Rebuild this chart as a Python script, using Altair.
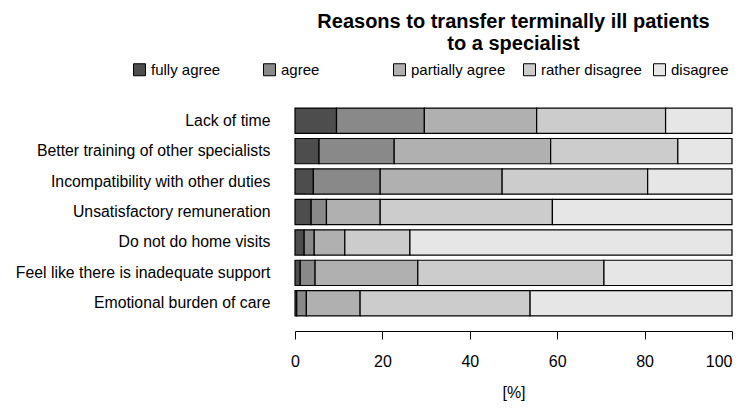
import altair as alt
import pandas as pd

reasons = [
    "Lack of time",
    "Better training of other specialists",
    "Incompatibility with other duties",
    "Unsatisfactory remuneration",
    "Do not do home visits",
    "Feel like there is inadequate support",
    "Emotional burden of care",
]
levels = ["fully agree", "agree", "partially agree", "rather disagree", "disagree"]
colors = ["#4d4d4d", "#898989", "#b0b0b0", "#cccccc", "#e6e6e6"]

fully_agree = [9.5, 5.5, 4.2, 3.7, 2.1, 1.2, 0.4]
agree = [20.1, 17.2, 15.3, 3.5, 2.3, 3.4, 2.2]
partially_agree = [25.7, 35.8, 27.9, 12.3, 7.0, 23.5, 12.3]
rather_disagree = [29.5, 29.1, 33.3, 39.4, 14.9, 42.6, 38.9]
disagree = [15.2, 12.4, 19.3, 41.1, 73.7, 29.3, 46.2]
ticks = [0, 20, 40, 60, 80, 100]

series = [fully_agree, agree, partially_agree, rather_disagree, disagree]
rows = []
for li, (lev, vals) in enumerate(zip(levels, series)):
    for r, v in zip(reasons, vals):
        rows.append({"reason": r, "level": lev, "value": v, "idx": li})
df = pd.DataFrame(rows)

FONT = "Liberation Sans"

chart = alt.Chart(df).mark_bar(stroke="black", strokeWidth=1.2).encode(
    x=alt.X(
        "value:Q",
        stack="zero",
        scale=alt.Scale(domain=[0, 100], nice=False),
        axis=alt.Axis(values=ticks, title="[%]", offset=12, tickSize=8,
                      labelPadding=14, titlePadding=15, grid=False,
                      labelFlush=False,
                      labelAlign={"condition": {"test": "datum.value >= 100", "value": "right"},
                                  "value": "center"}),
    ),
    y=alt.Y(
        "reason:N",
        sort=reasons,
        scale=alt.Scale(paddingInner=0.17, paddingOuter=0.1),
        axis=alt.Axis(title=None, domain=False, ticks=False, tickSize=0,
                      labelPadding=25, labelLimit=400, labelFontSize=15.8),
    ),
    color=alt.Color(
        "level:N",
        scale=alt.Scale(domain=levels, range=colors),
        legend=alt.Legend(
            title=None, orient="none", legendX=-163, legendY=-43,
            direction="horizontal", columns=5, gridAlign="all",
            columnPadding=9, symbolType="square", symbolSize=144,
            symbolStrokeColor="black", symbolStrokeWidth=1, symbolOffset=0,
            labelOffset=4, labelFontSize=15, labelFont=FONT, labelColor="black",
            symbolOpacity=1,
        ),
    ),
    order=alt.Order("idx:Q"),
).properties(
    width=437,
    height=214,
    autosize=alt.AutoSizeParams(type="none"),
    padding={"left": 287, "top": 97, "right": 7, "bottom": 84},
    title=alt.TitleParams(
        text=["Reasons to transfer terminally ill patients", "to a specialist"],
        fontSize=20, fontWeight="bold", font=FONT, color="black",
        anchor="middle", lineHeight=22, offset=8,
    ),
).configure_view(stroke=None).configure_axis(
    labelFont=FONT, labelFontSize=16, labelColor="black",
    titleFont=FONT, titleFontSize=16, titleFontWeight="normal", titleColor="black",
    domainColor="black", tickColor="black", domainWidth=1, tickWidth=1,
)

chart.save("out.html", embed_options={"renderer": "svg", "actions": False})
